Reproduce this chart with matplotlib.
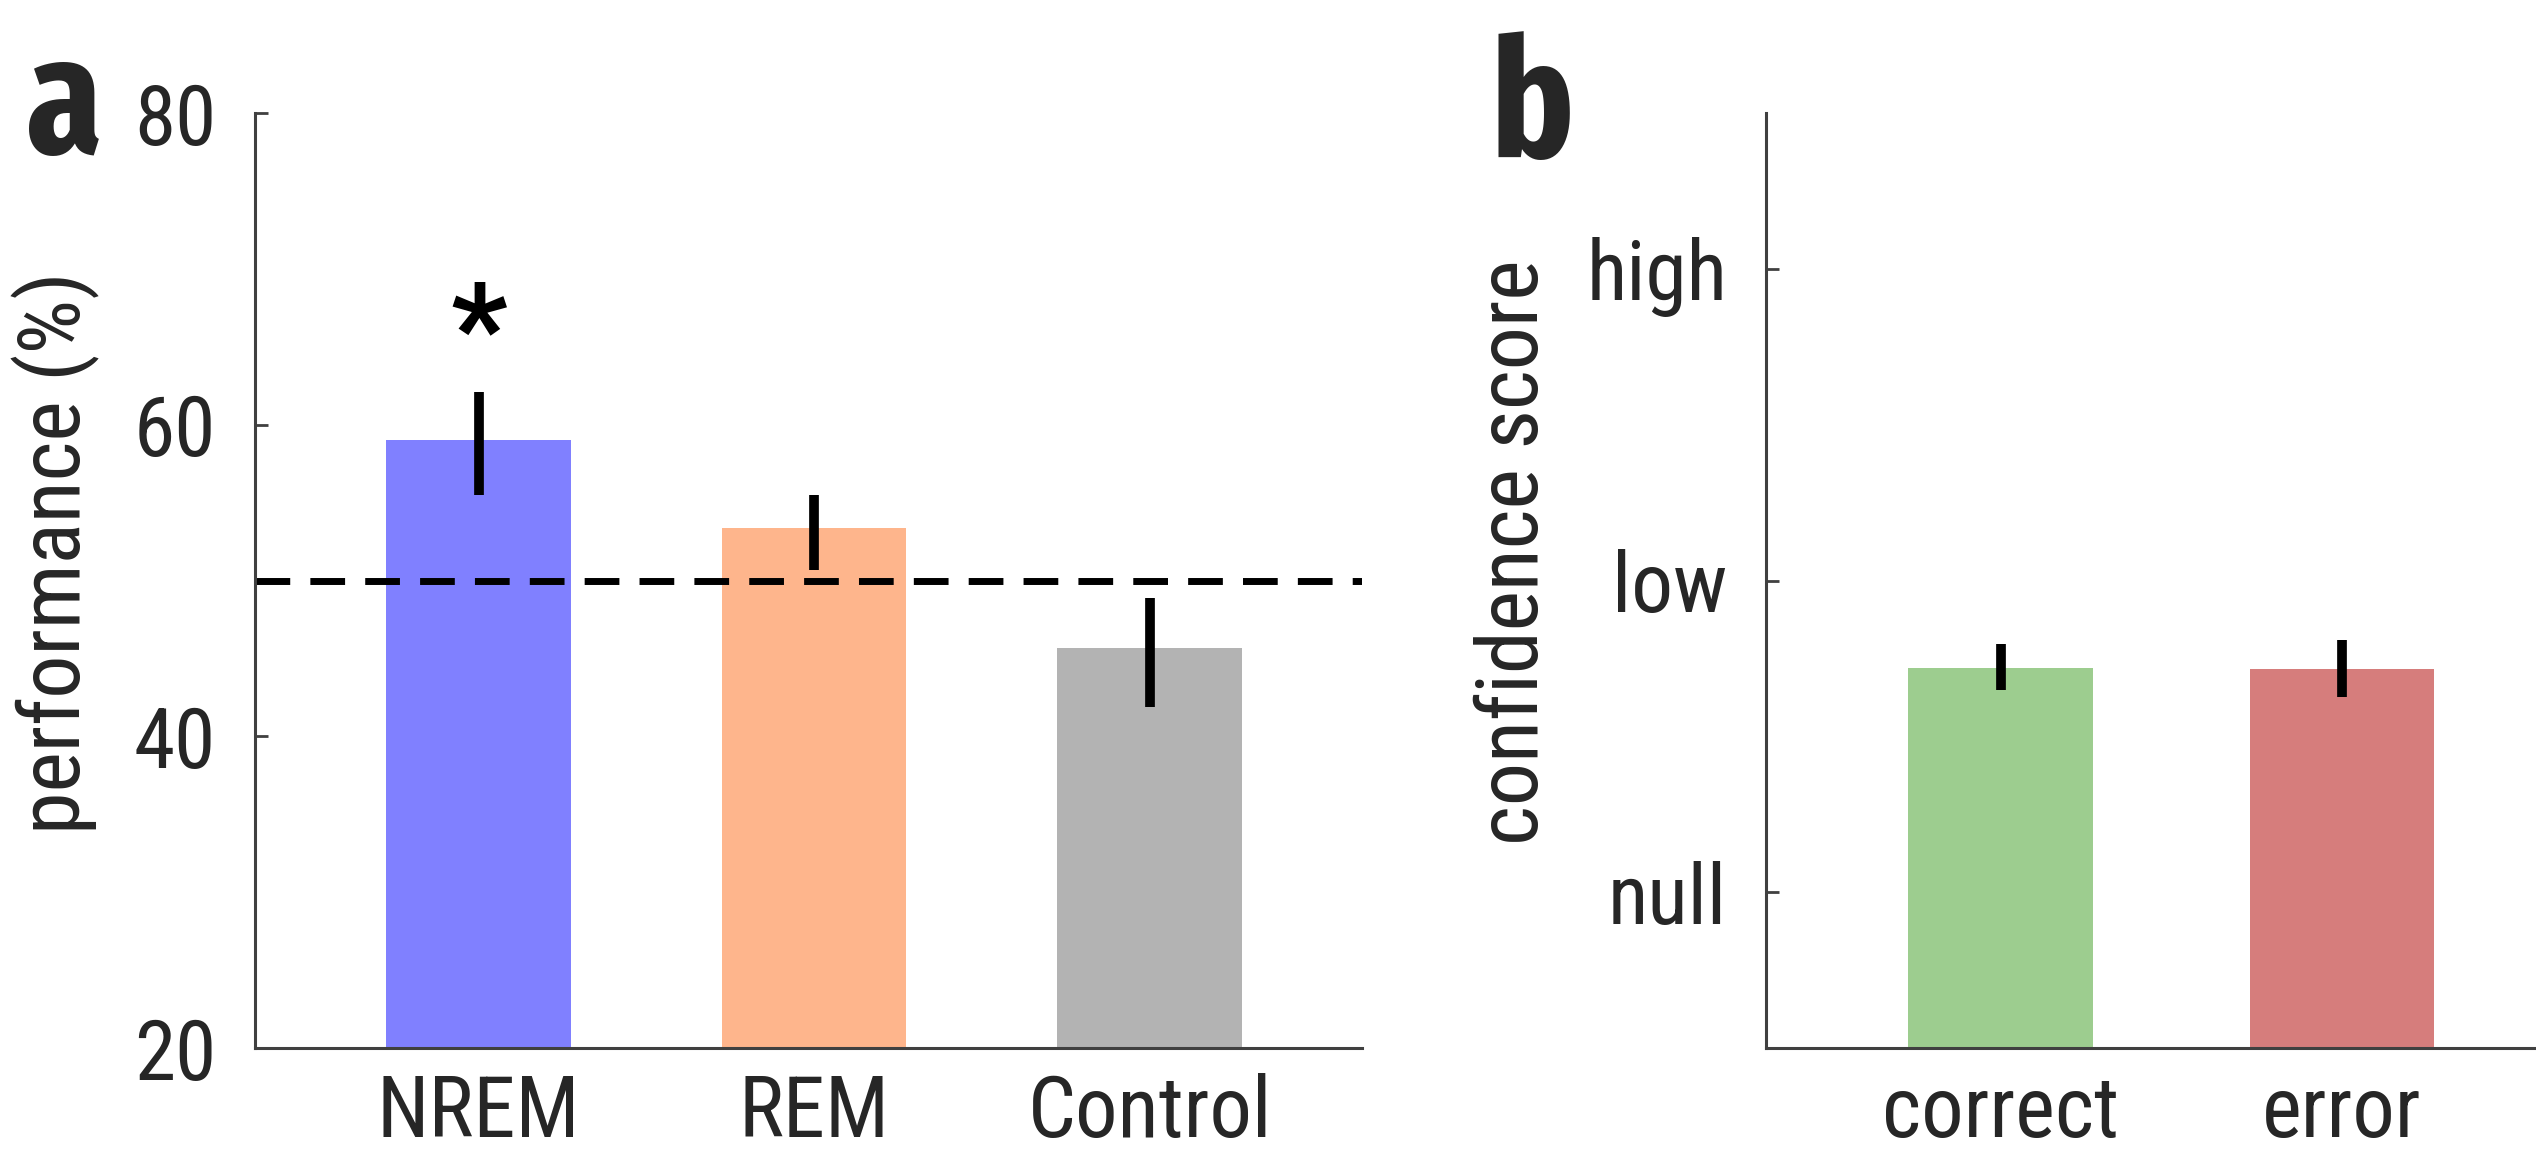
import matplotlib
matplotlib.use('Agg')
import matplotlib.pyplot as plt
from matplotlib import font_manager
import numpy as np

# narrow sans close to the original condensed Helvetica
names = set(f.name for f in font_manager.fontManager.ttflist)
family = 'DejaVu Sans'
for cand in ['Roboto Condensed', 'Archivo Narrow', 'Liberation Sans Narrow', 'IBM Plex Sans Condensed',
             'Fira Sans Condensed', 'Liberation Sans']:
    if cand in names:
        family = cand
        break
plt.rcParams['font.family'] = [family, 'DejaVu Sans']
letter_family = 'Fira Sans Extra Condensed' if 'Fira Sans Extra Condensed' in names else family

# panel a data
sleep_groups = ['NREM', 'REM', 'Control']
performance = [59.0, 53.4, 45.7]
perf_low = [55.5, 50.7, 41.9]
perf_high = [62.1, 55.5, 48.9]
chance_level = 50
perf_colors = ['#8080ff', '#feb58c', '#b3b3b3']

# panel b data
answer_groups = ['correct', 'error']
confidence = [0.719, 0.716]
conf_low = [0.649, 0.626]
conf_high = [0.796, 0.809]
conf_ticks = [0, 1, 2]
conf_ticklabels = ['null', 'low', 'high']
conf_colors = ['#9dcd8f', '#d67d7c']

text_c = '#262626'
spine_c = '#404040'

fig = plt.figure(figsize=(25.36, 11.61), dpi=100)
a1 = fig.add_axes([0.1006, 0.0973, 0.4365, 0.8053])
a2 = fig.add_axes([0.6964, 0.0973, 0.3036, 0.8053])


def style(ax):
    for s in ['top', 'right']:
        ax.spines[s].set_visible(False)
    for s in ['left', 'bottom']:
        ax.spines[s].set_color(spine_c)
        ax.spines[s].set_linewidth(2.2)
    ax.tick_params(axis='y', direction='in', length=9, width=2, color=spine_c,
                   pad=28, labelsize=60, labelcolor=text_c)
    ax.tick_params(axis='x', length=0, pad=18, labelsize=61, labelcolor=text_c)


# a
x = np.arange(1, len(sleep_groups) + 1)
a1.bar(x, performance, width=0.55, color=perf_colors, zorder=1)
yerr = [np.array(performance) - np.array(perf_low), np.array(perf_high) - np.array(performance)]
a1.errorbar(x, performance, yerr=yerr, fmt='none', ecolor='black', elinewidth=7, capsize=0, zorder=3)
a1.axhline(chance_level, color='black', lw=5, dashes=(5, 2.9), zorder=2)
a1.text(1, 65.7, '*', ha='center', va='center', fontsize=90, fontweight='bold', color='black')
a1.set_xlim(0.334, 3.633)
a1.set_ylim(20, 80)
a1.set_yticks([20, 40, 60, 80])
a1.set_xticks(x)
a1.set_xticklabels(sleep_groups)
a1.set_ylabel('performance (%)', fontsize=62, color=text_c)
a1.yaxis.set_label_coords(-0.140, 0.53)
style(a1)

# b  (bars start at the bottom of the axis)
base = -0.5
x2 = np.arange(1, len(answer_groups) + 1)
a2.bar(x2, np.array(confidence) - base, bottom=base, width=0.54, color=conf_colors, zorder=1)
yerr2 = [np.array(confidence) - np.array(conf_low), np.array(conf_high) - np.array(confidence)]
a2.errorbar(x2, confidence, yerr=yerr2, fmt='none', ecolor='black', elinewidth=7, capsize=0, zorder=3)
a2.set_xlim(0.313, 2.568)
a2.set_ylim(base, 2.5)
a2.set_yticks(conf_ticks)
a2.set_yticklabels(conf_ticklabels)
a2.set_xticks(x2)
a2.set_xticklabels(answer_groups)
a2.set_ylabel('confidence score', fontsize=62, color=text_c)
a2.yaxis.set_label_coords(-0.274, 0.53)
style(a2)

fig.text(26 / 2536, 1 - 153 / 1161, 'a', fontsize=120, fontweight='bold', color=text_c,
         va='baseline', family=[letter_family, 'DejaVu Sans'])
fig.text(1491 / 2536, 1 - 157 / 1161, 'b', fontsize=120, fontweight='bold', color=text_c,
         va='baseline', family=[letter_family, 'DejaVu Sans'])

fig.savefig('out.png', dpi=100)
